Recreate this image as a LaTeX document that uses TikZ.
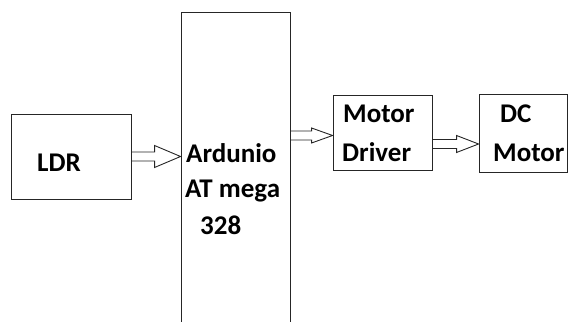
\documentclass[tikz,border=0pt]{standalone}
\usepackage{fontspec}
\setmainfont{Carlito}
\usetikzlibrary{calc}

\begin{document}
\begin{tikzpicture}[
        x=1pt, y=1pt,
        box/.style={rectangle, draw=black!85, line width=0.9pt, inner sep=0pt},
        lbl/.style={font=\fontsize{27}{30}\selectfont\bfseries, inner sep=0pt, anchor=base west},
        hollow/.style 2 args={draw=black!85, line width=0.9pt, line join=miter,
            to path={let \p1=(\tikztostart), \p2=(\tikztotarget) in
                (\x1,\y1+4.5) -- (\x2-#1,\y1+4.5) -- (\x2-#1,\y1+#2) -- (\x2,\y1)
                -- (\x2-#1,\y1-#2) -- (\x2-#1,\y1-4.5) -- (\x1,\y1-4.5) -- cycle}}
    ]
        \clip (0,0) rectangle (569,321);

        % blocks
        \node[box, minimum width=120, minimum height=85] (ldr) at (71,164.5) {};
        \node[box, minimum width=109, minimum height=340] (ard) at (235.5,139) {};
        \node[box, minimum width=99, minimum height=75] (md) at (382.5,188.5) {};
        \node[box, minimum width=88, minimum height=78] (dc) at (523,188) {};

        % texts
        \node[lbl] (ldrtxt) at (37,149) {LDR};
        \node[lbl] (ardA) at (186,158) {Ardunio};
        \node[lbl] (ardB) at (185,123) {AT mega};
        \node[lbl] (ardC) at (200,86) {328};
        \node[lbl] (mdA) at (343,198) {Motor};
        \node[lbl] (mdB) at (342,159) {Driver};
        \node[lbl] (dcA) at (500,198) {DC};
        \node[lbl] (dcB) at (493,159) {Motor};

        % block arrows
        \draw[hollow={26}{11}] (ldr.east) to (ldr.east -| ard.west);
        \draw[hollow={21}{7.5}] ([yshift=-3pt]md.west -| ard.east) to ([yshift=-3pt]md.west);
        \draw[hollow={22}{8.5}] ([yshift=-11.5pt]md.east) to ([yshift=-11.5pt]md.east -| dc.west);
    \end{tikzpicture}
\end{document}
